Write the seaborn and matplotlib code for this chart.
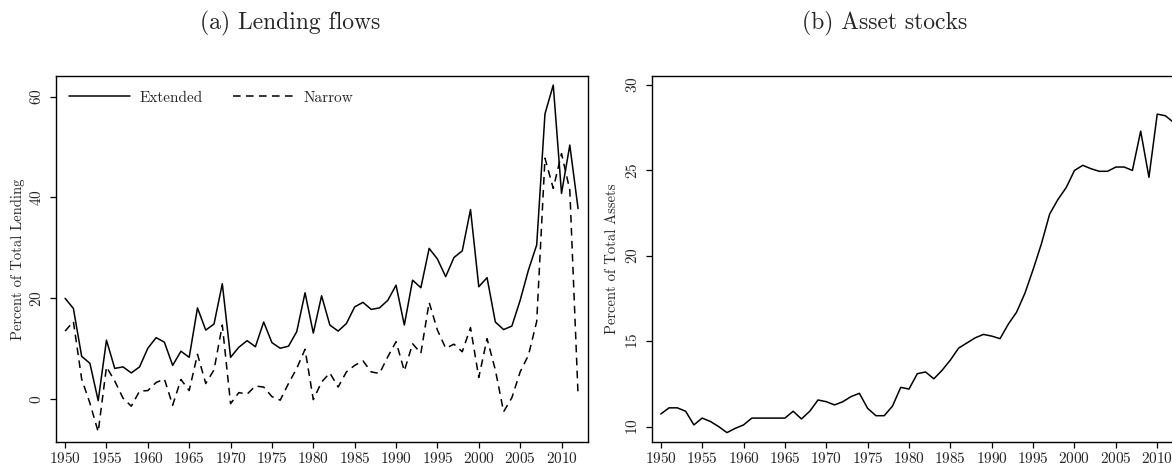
import seaborn as sns
import matplotlib.pyplot as plt
import pandas as pd

# Data
years = list(range(1950, 2013))

extended = [20.0, 18.0, 8.5, 7.1, -0.3, 11.7, 6.1, 6.4, 5.2, 6.4,
            10.1, 12.2, 11.3, 6.7, 9.5, 8.3, 18.1, 13.7, 14.9, 22.9,
            8.3, 10.3, 11.6, 10.4, 15.3, 11.2, 10.1, 10.5, 13.4, 21.1,
            13.1, 20.5, 14.7, 13.5, 15.0, 18.3, 19.2, 17.8, 18.1, 19.6,
            22.6, 14.7, 23.6, 22.1, 29.9, 27.8, 24.3, 28.1, 29.4, 37.6,
            22.3, 24.1, 15.3, 13.8, 14.5, 19.6, 25.6, 30.6, 56.6, 62.3,
            40.8, 50.4, 37.8]

narrow = [13.5, 15.4, 4.0, -0.8, -6.5, 6.4, 3.6, 0.2, -1.4, 1.6,
          1.7, 3.3, 4.0, -1.2, 3.9, 1.7, 8.9, 3.1, 5.8, 14.7,
          -0.9, 1.3, 1.0, 2.6, 2.4, 0.5, -0.2, 3.1, 6.1, 9.9,
          -0.1, 3.4, 5.2, 2.4, 5.4, 6.7, 7.6, 5.4, 5.1, 8.4,
          11.4, 5.6, 11.0, 9.1, 19.2, 13.7, 10.1, 10.9, 9.4, 14.2,
          4.3, 12.0, 5.8, -2.5, 0.3, 5.4, 8.7, 15.4, 47.8, 41.8,
          48.7, 41.5, 0.8]

assets = [10.74, 11.1, 11.1, 10.9, 10.1, 10.5, 10.3, 10.0, 9.65, 9.9,
          10.1, 10.5, 10.5, 10.5, 10.5, 10.5, 10.9, 10.45, 10.9, 11.56,
          11.46, 11.27, 11.46, 11.76, 11.95, 11.07, 10.64, 10.64, 11.2, 12.3,
          12.2, 13.1, 13.2, 12.8, 13.3, 13.9, 14.6, 14.9, 15.2, 15.4,
          15.3, 15.15, 16.0, 16.7, 17.8, 19.2, 20.7, 22.45, 23.3, 24.0,
          25.0, 25.3, 25.1, 24.95, 24.95, 25.2, 25.2, 25.0, 27.3, 24.6,
          28.3, 28.2, 27.8]

year_ticks = list(range(1950, 2015, 5))

flows = pd.DataFrame({'year': years, 'Extended': extended, 'Narrow': narrow})
stocks = pd.DataFrame({'year': years, 'assets': assets})

sns.set_style("ticks")
plt.rcParams['font.family'] = ['cmr10', 'DejaVu Serif']
plt.rcParams['mathtext.fontset'] = 'cm'
plt.rcParams['axes.formatter.use_mathtext'] = True
plt.rcParams['axes.unicode_minus'] = False

W, H = 1172, 466
fig = plt.figure(figsize=(W / 100, H / 100), dpi=100)
ax1 = fig.add_axes([56 / W, 1 - 442 / H, 532 / W, 366 / H])
ax2 = fig.add_axes([651.7 / W, 1 - 442 / H, 532 / W, 366 / H])

# (a) Lending flows
sns.lineplot(data=flows, x='year', y='Extended', ax=ax1, color='black',
             linewidth=1.1, label='Extended')
sns.lineplot(data=flows, x='year', y='Narrow', ax=ax1, color='black',
             linewidth=1.1, dashes=(5, 3.5), label='Narrow')
ax1.set_xlim(1948.9, 2013.2)
ax1.set_ylim(-8.5, 64.1)
ax1.set_yticks([0, 20, 40, 60])
ax1.set_ylabel("Percent of Total Lending", fontsize=10.5)
ax1.yaxis.set_label_coords(-0.058, 0.5)
ax1.legend(loc='center left', bbox_to_anchor=(0.0244, 0.94), ncol=2,
           frameon=False, fontsize=11, handlelength=4.0, handletextpad=0.6,
           columnspacing=2.0, borderpad=0, borderaxespad=0)

# (b) Asset stocks
sns.lineplot(data=stocks, x='year', y='assets', ax=ax2, color='black',
             linewidth=1.1)
ax2.set_xlim(1948.9, 2013.2)
ax2.set_ylim(9.1, 30.53)
ax2.set_yticks([10, 15, 20, 25, 30])
ax2.set_ylabel("Percent of Total Assets", fontsize=10.5)
ax2.yaxis.set_label_coords(-0.0615, 0.5)

for ax in (ax1, ax2):
    ax.set_xlabel("")
    ax.set_xticks(year_ticks)
    ax.tick_params(direction='out', length=4.5, width=0.9, labelsize=11,
                   color='black')
    ax.tick_params(axis='x', pad=2)
    ax.tick_params(axis='y', labelrotation=90, pad=4)
    plt.setp(ax.get_yticklabels(), va='center')
    for s in ax.spines.values():
        s.set_visible(True)
        s.set_linewidth(1.0)
        s.set_color('black')

fig.text(290 / W, 1 - 23 / H, "(a) Lending flows", ha='center', va='center',
         fontsize=17)
fig.text(885 / W, 1 - 23 / H, "(b) Asset stocks", ha='center', va='center',
         fontsize=17)

fig.savefig("out.png", dpi=100)
